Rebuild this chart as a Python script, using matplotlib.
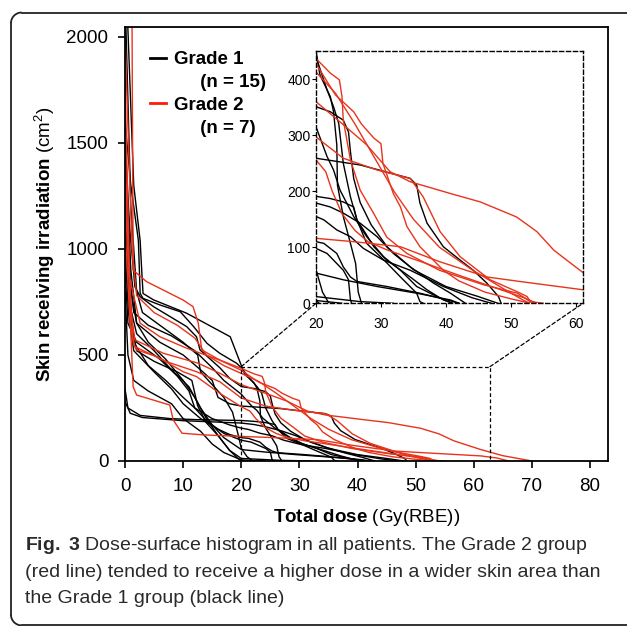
import matplotlib
matplotlib.use('Agg')
import matplotlib.pyplot as plt
from matplotlib.lines import Line2D
from matplotlib.patches import ConnectionPatch, Arc

plt.rcParams['font.family'] = ['Liberation Sans', 'DejaVu Sans']
plt.rcParams['mathtext.fontset'] = 'custom'
plt.rcParams['mathtext.rm'] = 'Liberation Sans'
plt.rcParams['mathtext.it'] = 'Liberation Sans:italic'
plt.rcParams['mathtext.bf'] = 'Liberation Sans:bold'

# dose-surface curves, (dose Gy(RBE), skin area cm2)
# Grade 1 (black)
g1_pt01 = [(0, 2400), (1.5, 1300), (2.6, 1040), (2.9, 885), (3.1, 790), (4.9, 760), (10.6, 697), (18.1, 586),
           (19.2, 508), (20, 451), (20.6, 408), (22.2, 369), (22.7, 342), (23.2, 283), (23.3, 211), (24.2, 155),
           (25.3, 107), (26.1, 71), (26.5, 20), (27, 0)]
g1_pt02 = [(0, 1600), (1, 1300), (2.3, 1040), (2.6, 791), (3.1, 767), (6, 736), (9.5, 704), (11.8, 634),
           (14.1, 555), (16.3, 508), (19.2, 461), (20, 440), (21.7, 381), (22.7, 351), (23.5, 321), (24.2, 250),
           (25.3, 190), (26.3, 149), (27.8, 107), (31, 71), (33, 47), (35.5, 18), (36, 3), (36.5, 0)]
g1_pt03 = [(0, 1500), (0.8, 1100), (1.7, 822), (2.6, 775), (4.9, 728), (10.6, 634), (12.3, 586), (12.9, 524),
           (16.3, 440), (18, 390), (20, 351), (22.2, 342), (24.2, 327), (25, 306), (25.3, 271), (25.8, 223),
           (26.8, 180), (28.5, 140), (31, 100), (35, 60), (40, 30), (45, 12), (48, 0)]
g1_pt04 = [(0, 1300), (0.7, 900), (1.5, 700), (4, 640), (8, 590), (12, 520), (15, 440), (17, 380), (20, 315),
           (21.7, 262), (22.7, 238), (23.7, 202), (25.8, 155), (27.8, 119), (30.4, 83), (33, 59), (35.5, 30),
           (38.6, 12), (41, 0)]
g1_pt05 = [(0, 1400), (1, 800), (2, 650), (6, 560), (10, 500), (13, 430), (15, 380), (16, 300), (18, 270),
           (20, 259), (26.8, 247), (34.5, 223), (35.5, 211), (36, 179), (37.1, 143), (39.6, 101), (42.2, 77),
           (44.2, 59), (46.3, 36), (48.1, 12), (48.5, 0)]
g1_pt06 = [(0, 340), (0.5, 250), (2.6, 215), (7.7, 200), (12.3, 195), (20, 191), (22.2, 187), (24.2, 181),
           (25.8, 172), (26.3, 149), (27.3, 131), (28.9, 101), (30.9, 77), (34.5, 47), (37.1, 24), (39.6, 6), (41, 0)]
g1_pt07 = [(0, 280), (0.9, 225), (3, 205), (10, 190), (20, 179), (22.2, 172), (24.2, 161), (26.8, 143),
           (29.4, 119), (31.9, 89), (34.5, 65), (38.1, 36), (40.7, 18), (43, 0)]
g1_pt08 = [(0, 1200), (0.8, 800), (1.5, 560), (4, 450), (7, 380), (10, 300), (12, 250), (15, 200), (18, 170),
           (20, 155), (21.2, 149), (23.2, 131), (25.3, 119), (27.3, 98), (30.4, 77), (34.5, 59), (39.6, 30),
           (44, 10), (47, 0)]
g1_pt09 = [(0, 1000), (0.6, 700), (1.5, 520), (5, 420), (8, 340), (10, 270), (13, 200), (16, 150), (18, 125),
           (20, 110), (21.2, 107), (23.2, 89), (24.2, 65), (25.3, 47), (26.3, 39), (30.9, 30), (36, 18),
           (40.2, 6), (42, 0)]
g1_pt10 = [(0, 900), (0.5, 650), (2, 560), (6, 480), (9, 400), (11, 330), (12, 250), (14, 190), (17, 130),
           (20, 98), (21.7, 89), (24.2, 59), (25, 42), (25.3, 6), (25.5, 0)]
g1_pt11 = [(0, 1100), (0.7, 750), (2, 600), (5, 520), (8, 430), (11, 350), (13, 250), (15, 170), (17, 110),
           (20, 54), (24.2, 42), (29.4, 30), (35.5, 18), (40.7, 6), (42, 0)]
g1_pt12 = [(0, 1500), (1, 900), (2, 650), (4, 560), (7, 480), (10, 380), (12, 300), (14, 200), (16, 120),
           (18, 50), (20, 12), (26.8, 3), (31.9, 0)]
g1_pt13 = [(0, 800), (0.5, 500), (1.5, 380), (4, 330), (8, 270), (10, 200), (13, 140), (15, 80), (17, 40),
           (20, 5), (24, 0)]
g1_pt14 = [(0, 1200), (0.8, 700), (2, 520), (5, 470), (9, 420), (11.5, 380), (12.5, 260), (14, 180), (16, 120),
           (18, 50), (19.5, 10), (20.5, 0)]
g1_pt15 = [(0, 2200), (1, 1200), (2, 800), (3, 700), (6, 640), (10, 560), (12.5, 500), (13, 420), (15, 360),
           (17, 300), (18.5, 230), (19.5, 120), (20, 60), (21, 20), (22, 0)]

# Grade 2 (red)
g2_pt01 = [(0, 2600), (1.2, 2100), (1.4, 900), (3.7, 846), (10, 759), (11.7, 728), (12.6, 650), (13.2, 524),
           (16.3, 476), (20, 437), (22.2, 411), (23.6, 399), (24, 369), (24.2, 327), (25.3, 256), (26.8, 202),
           (28.9, 160), (30.9, 118), (34, 89), (39, 59), (45.8, 33), (51, 18), (53, 3), (55, 0)]
g2_pt02 = [(0, 1500), (0.3, 1200), (0.6, 885), (2.6, 650), (6, 586), (10.6, 532), (16.3, 476), (20, 428),
           (21.7, 396), (23, 372), (25.8, 342), (27, 320), (28.9, 295), (30, 285), (30.3, 250), (31.9, 196),
           (33, 172), (34, 137), (36, 101), (39.6, 59), (42, 40), (46, 20), (50, 8), (53, 0)]
g2_pt03 = [(0, 1300), (0.9, 728), (1.7, 571), (6.6, 508), (12.6, 461), (16.3, 414), (20, 360), (24.3, 318),
           (27.8, 283), (31.4, 235), (34.5, 217), (40.7, 196), (45.3, 181), (50.9, 154), (54, 128), (56.6, 95),
           (58.6, 77), (61.2, 54), (65, 25), (68, 10), (70, 0)]
g2_pt04 = [(0, 1100), (0.9, 633), (1.7, 539), (7.2, 468), (12.3, 421), (16.3, 374), (20, 297), (24.2, 259),
           (29.4, 238), (34.5, 223), (36.5, 190), (39.1, 128), (42.2, 83), (46.8, 42), (50.9, 21), (52.5, 12),
           (53, 3), (54, 0)]
g2_pt05 = [(0, 1250), (1.4, 555), (2, 524), (5.5, 492), (10, 421), (12.3, 398), (16.3, 319), (20, 256),
           (21.5, 235), (22.5, 200), (24, 160), (26, 130), (28, 110), (31, 95), (36, 75), (42, 50), (47, 30),
           (52, 10), (54, 0)]
g2_pt06 = [(0, 1800), (0.5, 1200), (1, 600), (1.4, 350), (2, 311), (7.7, 264), (8.3, 193), (9.8, 131),
           (13.5, 123), (20, 116), (25.8, 110), (33, 101), (39.1, 74), (46.3, 47), (52, 38), (61.2, 24),
           (64, 14), (66, 0)]
g2_pt07 = [(0, 2000), (0.6, 1500), (1.2, 1000), (2, 780), (5, 700), (9, 640), (12, 580), (14, 500), (17, 450),
           (20, 413), (23, 375), (26, 320), (29, 260), (32, 200), (35, 150), (39, 100), (44, 60), (49, 25),
           (52, 5), (53, 0)]

grade1 = [g1_pt01, g1_pt02, g1_pt03, g1_pt04, g1_pt05, g1_pt06, g1_pt07, g1_pt08,
          g1_pt09, g1_pt10, g1_pt11, g1_pt12, g1_pt13, g1_pt14, g1_pt15]
grade2 = [g2_pt01, g2_pt02, g2_pt03, g2_pt04, g2_pt05, g2_pt06, g2_pt07]

zoom_dose = (20, 62.8)
zoom_area = (0, 445)

caption = [r'$\bf{Fig.\ 3}$ Dose-surface histogram in all patients. The Grade 2 group',
           '(red line) tended to receive a higher dose in a wider skin area than',
           'the Grade 1 group (black line)']

RED = '#e8341c'

fig = plt.figure(figsize=(6.27, 6.26), dpi=100)

# outer frame: left side with rounded corners, open to the right and bottom
fx, fb, ft, r = 0.0175, 0.001, 0.98, 0.017
fkw = dict(transform=fig.transFigure, color='#222222', lw=1.3)
fig.add_artist(Line2D([fx, fx], [fb + r, ft - r], **fkw))
fig.add_artist(Line2D([fx + r, 1.01], [ft, ft], **fkw))
fig.add_artist(Line2D([fx + r, 1.01], [fb, fb], **fkw))
fig.add_artist(Arc((fx + r, ft - r), 2 * r, 2 * r, theta1=90, theta2=180, **fkw))
fig.add_artist(Arc((fx + r, fb + r), 2 * r, 2 * r, theta1=180, theta2=270, **fkw))

ax = fig.add_axes([0.1994, 0.2636, 0.7703, 0.6933])
for pts in grade1:
    d, a = zip(*pts)
    ax.plot(d, a, color='black', lw=1.0)
for pts in grade2:
    d, a = zip(*pts)
    ax.plot(d, a, color=RED, lw=1.0)

ax.set_xlim(0, 83.1)
ax.set_ylim(0, 2047)
ax.set_xticks(range(0, 81, 10))
ax.set_yticks(range(0, 2001, 500))
ax.tick_params(direction='out', length=5, width=1.2, labelsize=13.5, pad=7)
for s in ax.spines.values():
    s.set_linewidth(1.3)
ax.set_xlabel(r'$\bf{Total\ dose}$ (Gy(RBE))', fontsize=13.5, labelpad=9)
ax.set_ylabel(r'$\bf{Skin\ receiving\ irradiation}$ (cm$^2$)', fontsize=13.5, labelpad=7)

# zoom box on main axes
ax.plot([zoom_dose[0], zoom_dose[0], zoom_dose[1], zoom_dose[1]],
        [zoom_area[0], zoom_area[1], zoom_area[1], zoom_area[0]],
        color='black', lw=0.9, ls=(0, (3, 2)))

handles = [Line2D([], [], color='black', lw=2), Line2D([], [], alpha=0),
           Line2D([], [], color='#ff1a0a', lw=2), Line2D([], [], alpha=0)]
labels = ['Grade 1', '     (n = 15)', 'Grade 2', '     (n = 7)']
ax.legend(handles, labels, loc='upper left', bbox_to_anchor=(0.052, 0.944), frameon=False,
          borderpad=0, borderaxespad=0, handlelength=0.85, handletextpad=0.4, labelspacing=0.3,
          prop={'weight': 'bold', 'size': 13.5})

# inset
axin = fig.add_axes([0.504, 0.5155, 0.4258, 0.4035])
for pts in grade1:
    d, a = zip(*pts)
    axin.plot(d, a, color='black', lw=1.0)
for pts in grade2:
    d, a = zip(*pts)
    axin.plot(d, a, color=RED, lw=1.0)
axin.set_xlim(20, 61.1)
axin.set_ylim(0, 451)
axin.set_xticks(range(20, 61, 10))
axin.set_yticks(range(0, 401, 100))
axin.tick_params(direction='out', length=3, width=0.8, labelsize=10)
axin.tick_params(axis='y', pad=1)
axin.tick_params(axis='x', pad=7)
for s in axin.spines.values():
    s.set_linestyle((0, (3, 2)))
    s.set_linewidth(1.0)

for xa, xb in [((zoom_dose[0], zoom_area[1]), (0, 0)), ((zoom_dose[1], zoom_area[1]), (1, 0))]:
    con = ConnectionPatch(xyA=xa, coordsA=ax.transData, xyB=xb, coordsB=axin.transAxes,
                          color='black', lw=0.9, ls=(0, (3, 2)))
    fig.add_artist(con)

for i, line in enumerate(caption):
    fig.text(0.04, 0.122 - i * 0.043, line, fontsize=14, color='#2a2a2a', va='baseline', ha='left')

fig.savefig('out.png', dpi=100)
